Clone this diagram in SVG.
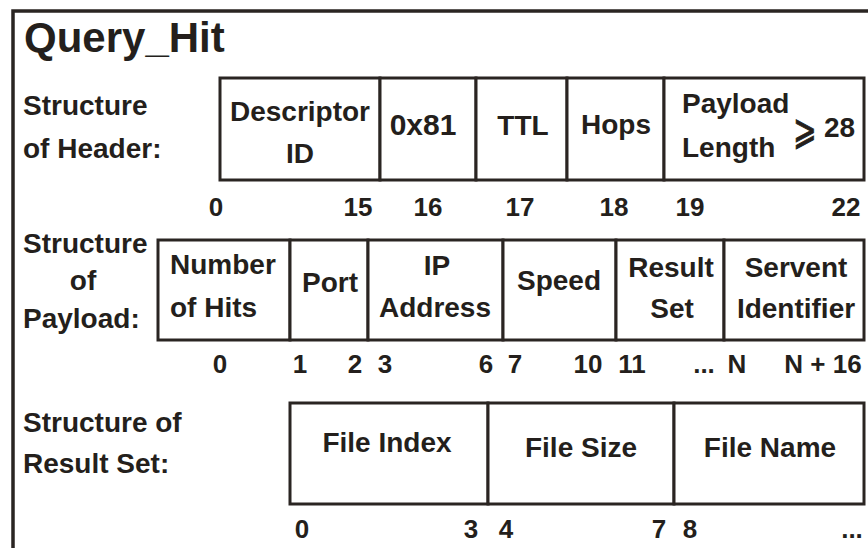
<svg xmlns="http://www.w3.org/2000/svg" width="868" height="548" viewBox="0 0 868 548">
<style>
text{font-family:"Liberation Sans",Arial,"DejaVu Sans",sans-serif;font-weight:bold;fill:#241f1c}
.lbl{font-size:28px}
.fld{font-size:28px;text-anchor:middle}
.idx{font-size:26px;text-anchor:middle}
.box{fill:#fff;stroke:#2a2522;stroke-width:3}
.frame{fill:none;stroke:#2a2522;stroke-width:3.5}
</style>
<rect width="868" height="548" fill="#fff"/>
<rect class="frame" x="13" y="11" width="900" height="600"/>
<text x="24" y="52" style="font-size:42px">Query_Hit</text>

<g id="header-label">
<text class="lbl" x="23" y="115">Structure</text>
<text class="lbl" x="23" y="158">of Header:</text>
</g>
<g id="h-descriptor"><rect class="box" x="220" y="78" width="160" height="102"/><text class="fld" x="300" y="121">Descriptor</text><text class="fld" x="300" y="163">ID</text></g>
<g id="h-0x81"><rect class="box" x="380" y="78" width="96" height="102"/><text class="fld" x="423" y="135" style="font-size:30px">0x81</text></g>
<g id="h-ttl"><rect class="box" x="476" y="78" width="91" height="102"/><text class="fld" x="523" y="135">TTL</text></g>
<g id="h-hops"><rect class="box" x="567" y="78" width="97" height="102"/><text class="fld" x="616" y="134">Hops</text></g>
<g id="h-payload-length"><rect class="box" x="664" y="78" width="200" height="102"/><text class="lbl" x="682" y="113">Payload</text><text class="lbl" x="682" y="157">Length</text><text transform="translate(793,144) scale(0.8,1.2)" style="font-family:'DejaVu Sans',sans-serif;font-size:35px;font-weight:normal;stroke:#241f1c;stroke-width:0.8">⩾</text><text class="lbl" x="824" y="137">28</text></g>
<g id="header-index">
<text class="idx" x="216" y="216">0</text>
<text class="idx" x="358" y="216">15</text>
<text class="idx" x="428" y="216">16</text>
<text class="idx" x="520" y="216">17</text>
<text class="idx" x="614" y="216">18</text>
<text class="idx" x="690" y="216">19</text>
<text class="idx" x="846" y="216">22</text>
</g>

<g id="payload-label">
<text class="lbl" x="23" y="253">Structure</text>
<text class="lbl" x="83" y="290" text-anchor="middle">of</text>
<text class="lbl" x="23" y="328">Payload:</text>
</g>
<g id="p-hits"><rect class="box" x="158" y="240" width="132" height="100"/><text class="lbl" x="170" y="274">Number</text><text class="lbl" x="170" y="317">of Hits</text></g>
<g id="p-port"><rect class="box" x="290" y="240" width="78" height="100"/><text class="fld" x="330" y="292">Port</text></g>
<g id="p-ip"><rect class="box" x="368" y="240" width="135" height="100"/><text class="fld" x="437" y="275">IP</text><text class="fld" x="435" y="317">Address</text></g>
<g id="p-speed"><rect class="box" x="503" y="240" width="113" height="100"/><text class="fld" x="559" y="290">Speed</text></g>
<g id="p-result"><rect class="box" x="616" y="240" width="108" height="100"/><text class="fld" x="671" y="277">Result</text><text class="fld" x="672" y="318">Set</text></g>
<g id="p-servent"><rect class="box" x="724" y="240" width="140" height="100"/><text class="fld" x="796" y="277">Servent</text><text class="fld" x="796" y="318">Identifier</text></g>
<g id="payload-index">
<text class="idx" x="220" y="373">0</text>
<text class="idx" x="300" y="373">1</text>
<text class="idx" x="355" y="373">2</text>
<text class="idx" x="385" y="373">3</text>
<text class="idx" x="486" y="373">6</text>
<text class="idx" x="515" y="373">7</text>
<text class="idx" x="588" y="373">10</text>
<text class="idx" x="632" y="373">11</text>
<text class="idx" x="704" y="373">...</text>
<text class="idx" x="737" y="373">N</text>
<text class="idx" x="823" y="373" xml:space="preserve">N + 16</text>
</g>

<g id="result-label">
<text class="lbl" x="23" y="432">Structure of</text>
<text class="lbl" x="23" y="473">Result Set:</text>
</g>
<g id="r-index"><rect class="box" x="290" y="403" width="198" height="101"/><text class="fld" x="387" y="452">File Index</text></g>
<g id="r-size"><rect class="box" x="488" y="403" width="186" height="101"/><text class="fld" x="581" y="457">File Size</text></g>
<g id="r-name"><rect class="box" x="674" y="403" width="190" height="101"/><text class="fld" x="770" y="457">File Name</text></g>
<g id="result-index">
<text class="idx" x="302" y="538">0</text>
<text class="idx" x="471" y="538">3</text>
<text class="idx" x="506" y="538">4</text>
<text class="idx" x="659" y="538">7</text>
<text class="idx" x="690" y="538">8</text>
<text class="idx" x="852" y="538">...</text>
</g>
<g id="connectors"/>
</svg>
